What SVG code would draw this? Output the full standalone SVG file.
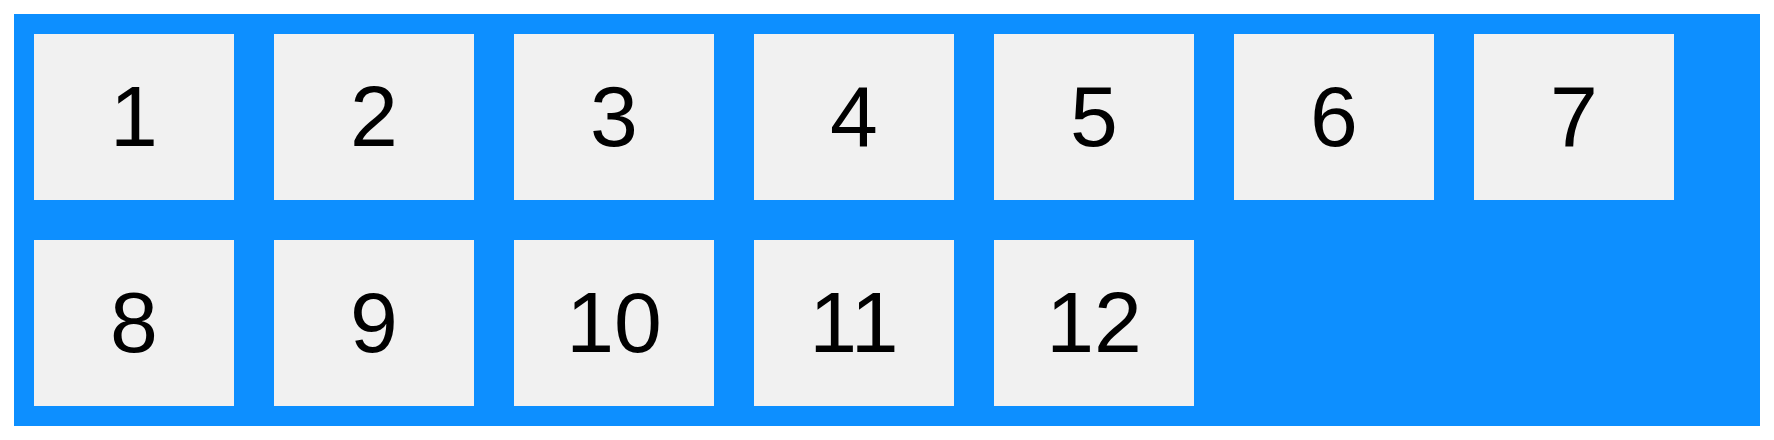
<svg xmlns="http://www.w3.org/2000/svg" width="1774" height="440" viewBox="0 0 1774 440">
<style>
.box{fill:#f1f1f1}
.lbl{font-family:"Liberation Sans",Arial,sans-serif;font-size:86px;fill:#000;text-anchor:middle}
</style>
<rect x="0" y="0" width="1774" height="440" fill="#ffffff"/>
<rect id="container" x="14" y="14" width="1746" height="412" fill="#0d8fff"/>
<g id="n1"><rect class="box" x="34" y="34" width="200" height="166"/><text class="lbl" x="134" y="146">1</text></g>
<g id="n2"><rect class="box" x="274" y="34" width="200" height="166"/><text class="lbl" x="374" y="146">2</text></g>
<g id="n3"><rect class="box" x="514" y="34" width="200" height="166"/><text class="lbl" x="614" y="146">3</text></g>
<g id="n4"><rect class="box" x="754" y="34" width="200" height="166"/><text class="lbl" x="854" y="146">4</text></g>
<g id="n5"><rect class="box" x="994" y="34" width="200" height="166"/><text class="lbl" x="1094" y="146">5</text></g>
<g id="n6"><rect class="box" x="1234" y="34" width="200" height="166"/><text class="lbl" x="1334" y="146">6</text></g>
<g id="n7"><rect class="box" x="1474" y="34" width="200" height="166"/><text class="lbl" x="1574" y="146">7</text></g>
<g id="n8"><rect class="box" x="34" y="240" width="200" height="166"/><text class="lbl" x="134" y="352">8</text></g>
<g id="n9"><rect class="box" x="274" y="240" width="200" height="166"/><text class="lbl" x="374" y="352">9</text></g>
<g id="n10"><rect class="box" x="514" y="240" width="200" height="166"/><text class="lbl" x="614" y="352">10</text></g>
<g id="n11"><rect class="box" x="754" y="240" width="200" height="166"/><text class="lbl" x="854" y="352">11</text></g>
<g id="n12"><rect class="box" x="994" y="240" width="200" height="166"/><text class="lbl" x="1094" y="352">12</text></g>
<g id="connectors"></g>
</svg>
